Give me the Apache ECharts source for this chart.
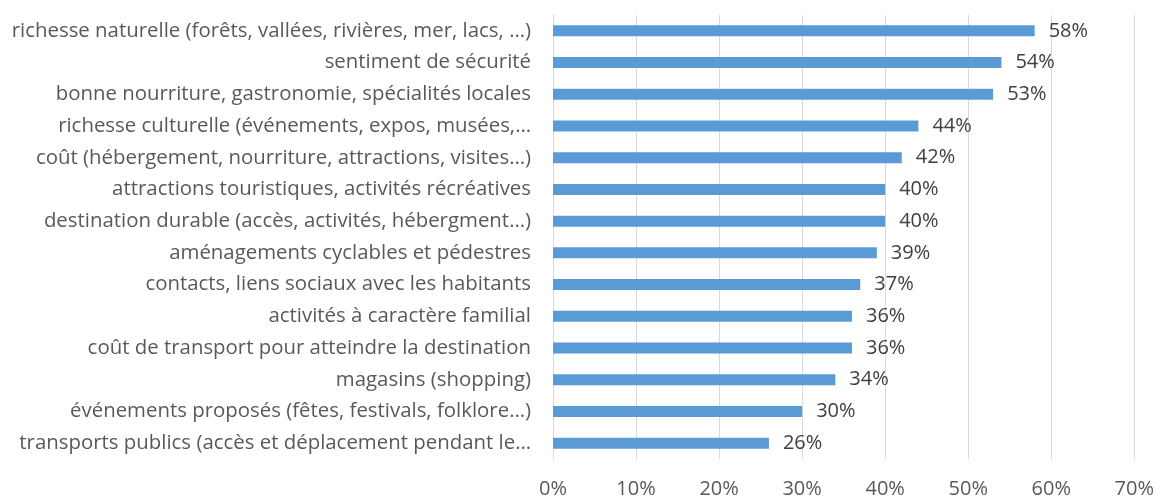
<!DOCTYPE html>
<html>
<head>
<meta charset="utf-8">
<script src="https://cdn.jsdelivr.net/npm/echarts@6/dist/echarts.min.js"></script>
<style>
  html, body { margin: 0; padding: 0; background: #fff; }
  #chart { width: 1157px; height: 500px; }
</style>
</head>
<body>
<div id="chart"></div>
<script>
var categories = [
    'richesse naturelle (forêts, vallées, rivières, mer, lacs, …)',
    'sentiment de sécurité',
    'bonne nourriture, gastronomie, spécialités locales',
    'richesse culturelle (événements, expos, musées,…',
    'coût (hébergement, nourriture, attractions, visites…)',
    'attractions touristiques, activités récréatives',
    'destination durable (accès, activités, hébergment…)',
    'aménagements cyclables et pédestres',
    'contacts, liens sociaux avec les habitants',
    'activités à caractère familial',
    'coût de transport pour atteindre la destination',
    'magasins (shopping)',
    'événements proposés (fêtes, festivals, folklore…)',
    'transports publics (accès et déplacement pendant le…'
];
var values = [58, 54, 53, 44, 42, 40, 40, 39, 37, 36, 36, 34, 30, 26];

var textFont = 'Open Sans';

var chart = echarts.init(document.getElementById('chart'));
chart.setOption({
    animation: false,
    grid: { left: 553, right: 22, top: 15, bottom: 41 },
    xAxis: {
        type: 'value',
        min: 0,
        max: 70,
        interval: 10,
        axisLine: { show: false },
        axisTick: { show: false },
        splitLine: { lineStyle: { color: '#d9d9d9', width: 1 } },
        axisLabel: {
            formatter: '{value}%',
            color: '#595959',
            fontFamily: textFont,
            fontSize: 20,
            margin: 20
        }
    },
    yAxis: {
        type: 'category',
        inverse: true,
        data: categories,
        axisLine: { show: true, lineStyle: { color: '#d9d9d9' } },
        axisTick: { show: false },
        axisLabel: {
            color: '#595959',
            fontFamily: textFont,
            fontSize: 20.4,
            margin: 22
        }
    },
    series: [{
        type: 'bar',
        data: values,
        barWidth: 11,
        itemStyle: { color: '#5b9bd5' },
        label: {
            show: true,
            position: 'right',
            distance: 14,
            formatter: '{c}%',
            color: '#404040',
            fontFamily: textFont,
            fontSize: 20
        }
    }]
});
</script>
</body>
</html>
